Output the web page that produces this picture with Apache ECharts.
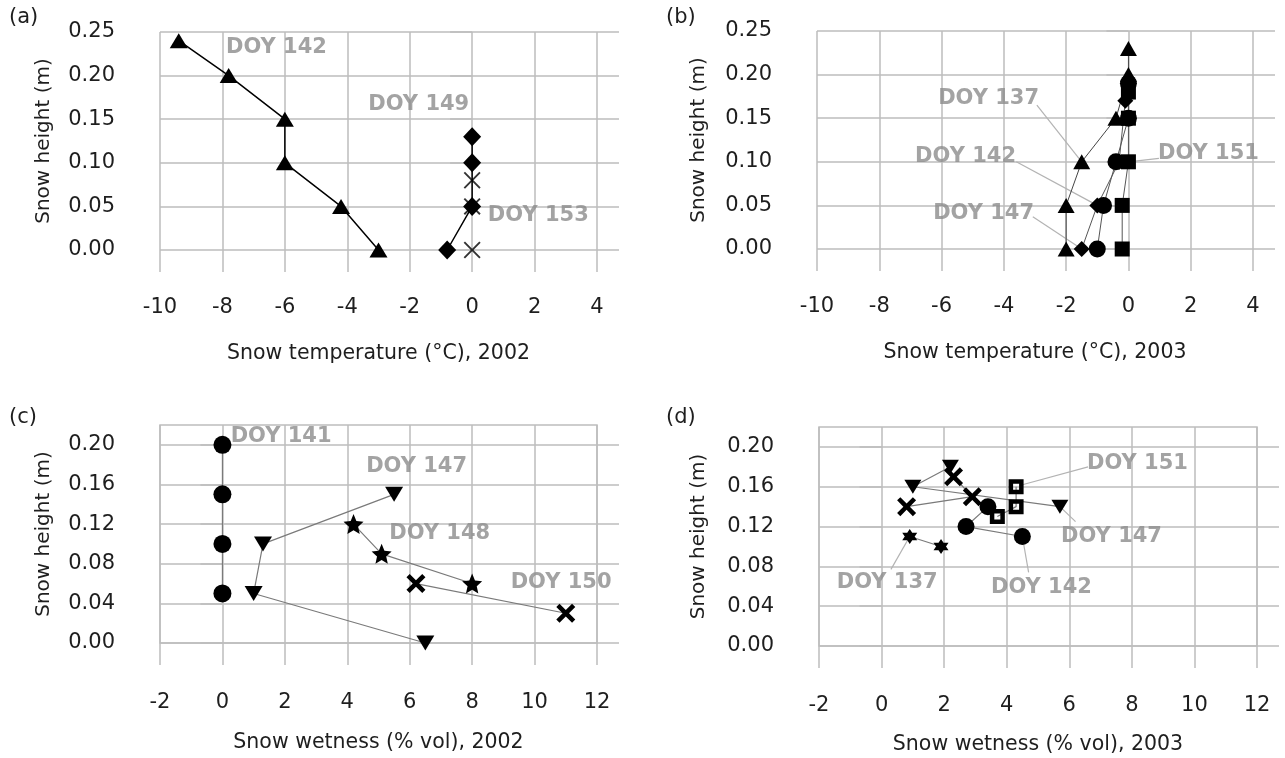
<!DOCTYPE html>
<html><head><meta charset="utf-8">
<script src="https://cdn.jsdelivr.net/npm/echarts@6/dist/echarts.min.js"></script>
<style>html,body{margin:0;padding:0;background:#fff}#c{width:1285px;height:758px}</style>
</head><body><div id="c"></div>
<script>
// ---- tick labels ----
const tempTicks = [-10, -8, -6, -4, -2, 0, 2, 4];
const wetTicks = [-2, 0, 2, 4, 6, 8, 10, 12];
const heightTicksAB = [0, 0.05, 0.10, 0.15, 0.20, 0.25];
const heightTicksCD = [0, 0.04, 0.08, 0.12, 0.16, 0.20];
const heightMaxCD = 0.22;

// ---- panel (a): snow temperature 2002 [temp, height] ----
const a142 = [[-9.4, 0.24], [-7.8, 0.20], [-6.0, 0.15], [-6.0, 0.10], [-4.2, 0.05], [-3.0, 0.00]];
const a149 = [[0, 0.13], [0, 0.10], [0, 0.05], [-0.8, 0.00]];
const a153 = [[0, 0.08], [0, 0.05], [0, 0.00]];
const aLabels = [['DOY 142', -6.27, 0.232], ['DOY 149', -1.71, 0.167], ['DOY 153', 2.12, 0.040]];

// ---- panel (b): snow temperature 2003 ----
const b137 = [[0, 0.23], [0, 0.20], [-0.4, 0.15], [-1.5, 0.10], [-2.0, 0.05], [-2.0, 0.00]];
const b142 = [[-1.0, 0.00], [-0.8, 0.05], [-0.4, 0.10], [0, 0.15], [0, 0.19]];
const b147 = [[-1.5, 0.00], [-1.0, 0.05], [-0.3, 0.10], [-0.1, 0.17]];
const b151 = [[-0.2, 0.00], [-0.2, 0.05], [0, 0.10], [0, 0.15], [0, 0.18]];
const bLabels = [['DOY 137', -4.49, 0.173], ['DOY 142', -5.23, 0.1055], ['DOY 147', -4.65, 0.041], ['DOY 151', 2.57, 0.110]];
const bLeaders = [[[-2.94, 0.165], [-1.5, 0.10]], [[-3.6, 0.10], [-1.0, 0.05]], [[-3.07, 0.037], [-1.5, 0.0]], [[0.98, 0.104], [0, 0.10]]];

// ---- panel (c): snow wetness 2002 [wetness, height] ----
const c141 = [[0, 0.20], [0, 0.15], [0, 0.10], [0, 0.05]];
const c147 = [[5.5, 0.15], [1.3, 0.10], [1.0, 0.05], [6.5, 0.00]];
const c148 = [[4.2, 0.12], [5.1, 0.09], [8.0, 0.06]];
const c150 = [[6.2, 0.06], [11.0, 0.03]];
const cLabels = [['DOY 141', 1.88, 0.208], ['DOY 147', 6.22, 0.178], ['DOY 148', 6.96, 0.110], ['DOY 150', 10.85, 0.0606]];

// ---- panel (d): snow wetness 2003 ----
const d137 = [[0.9, 0.11], [1.9, 0.10]];
const d142 = [[3.4, 0.14], [2.7, 0.12], [4.5, 0.11]];
const d147 = [[2.2, 0.18], [1.0, 0.16], [5.7, 0.14]];
const d151 = [[4.3, 0.16], [4.3, 0.14], [3.7, 0.13]];
const dCross = [[2.3, 0.17], [2.9, 0.15], [0.8, 0.14]];
const dLabels = [['DOY 151', 8.18, 0.183], ['DOY 147', 7.35, 0.110], ['DOY 137', 0.18, 0.064], ['DOY 142', 5.11, 0.059]];
const dLeaders = [[[4.5, 0.162], [6.6, 0.18]], [[5.7, 0.14], [6.2, 0.125]], [[0.9, 0.11], [0.3, 0.077]], [[4.5, 0.11], [4.7, 0.074]]];

// ---- styling ----
const FONT = 'DejaVu Sans';
const GRIDC = '#bdbdbd';
const TXT = '#1e1e1e';
const DOYC = '#8c8c8c';
const SYM_X_THIN = 'path://M0,0.8 L0.8,0 L5,4.2 L9.2,0 L10,0.8 L5.8,5 L10,9.2 L9.2,10 L5,5.8 L0.8,10 L0,9.2 L4.2,5 Z';
const SYM_X_BOLD = 'path://M0,1.7 L1.7,0 L5,3.3 L8.3,0 L10,1.7 L6.7,5 L10,8.3 L8.3,10 L5,6.7 L1.7,10 L0,8.3 L3.3,5 Z';
const SYM_STAR5 = 'path://M50,0 L63.5,31.4 L97.6,34.5 L71.9,57.1 L79.4,90.5 L50,73 L20.6,90.5 L28.1,57.1 L2.4,34.5 L36.5,31.4 Z';
const SYM_STAR6 = 'path://M50,0 L93.3,75 L6.7,75 Z M50,100 L6.7,25 L93.3,25 Z';
const SYM_OPENSQ = 'path://M0,0 L10,0 L10,10 L0,10 Z M3,3 L3,7 L7,7 L7,3 Z';

const grids = [
  {left: 160, top: 32, width: 437, height: 218},
  {left: 817, top: 31, width: 436, height: 218},
  {left: 160, top: 425, width: 437, height: 218, show: true, borderColor: GRIDC, borderWidth: 1.5, backgroundColor: 'rgba(0,0,0,0)'},
  {left: 819, top: 427, width: 438, height: 219, show: true, borderColor: GRIDC, borderWidth: 1.5, backgroundColor: 'rgba(0,0,0,0)'}
];
const xNames = ['Snow temperature (°C), 2002', 'Snow temperature (°C), 2003', 'Snow wetness (% vol), 2002', 'Snow wetness (% vol), 2003'];
const yNameGap = [106, 108, 106, 110];
const xLabelMargin = [47, 47, 49, 49];
const xNameGap = [93, 93, 89, 88];

const xAxes = grids.map((g, i) => {
  const ticks = i < 2 ? tempTicks : wetTicks;
  return {
    type: 'value', gridIndex: i,
    min: ticks[0], max: ticks[ticks.length - 1], interval: ticks[1] - ticks[0],
    axisLine: {show: false},
    axisTick: {show: true, length: 22, inside: false, lineStyle: {color: GRIDC, width: 1.5}},
    splitLine: {show: true, lineStyle: {color: GRIDC, width: 1.5}},
    axisLabel: {margin: xLabelMargin[i], fontFamily: FONT, fontSize: 21, color: TXT, formatter: v => String(v)},
    name: xNames[i], nameLocation: 'middle', nameGap: xNameGap[i],
    nameTextStyle: {fontFamily: FONT, fontSize: 20.5, color: TXT}
  };
});

const yAxes = [];
grids.forEach((g, i) => {
  const ticks = i < 2 ? heightTicksAB : heightTicksCD;
  const max = i < 2 ? ticks[ticks.length - 1] : heightMaxCD;
  const interval = ticks[1] - ticks[0];
  const fmt = v => (v > ticks[ticks.length - 1] + 1e-6 ? '' : v.toFixed(2));
  yAxes.push({
    type: 'value', gridIndex: i, position: 'left', min: 0, max: max, interval: interval,
    axisLine: {show: false},
    axisTick: {show: true, length: 22, inside: false, customValues: ticks, lineStyle: {color: GRIDC, width: 1.5}},
    splitLine: {show: true, lineStyle: {color: GRIDC, width: 1.5}},
    axisLabel: {margin: 45, fontFamily: FONT, fontSize: 21, color: TXT, customValues: ticks, formatter: fmt},
    name: 'Snow height (m)', nameLocation: 'middle', nameRotate: 90, nameGap: yNameGap[i],
    nameTextStyle: {fontFamily: FONT, fontSize: 20, color: TXT}
  });
  yAxes.push({
    type: 'value', gridIndex: i, position: 'right', min: 0, max: max, interval: interval,
    axisLine: {show: false},
    axisTick: {show: true, length: 22, inside: false, customValues: ticks, lineStyle: {color: GRIDC, width: 1.5}},
    splitLine: {show: false},
    axisLabel: {show: false}
  });
});

function lineS(gi, data, symbol, size, opt) {
  opt = opt || {};
  return {
    type: 'line', xAxisIndex: gi, yAxisIndex: gi * 2, data: data,
    symbol: symbol, symbolSize: size, symbolRotate: opt.rotate || 0, showSymbol: true,
    lineStyle: {color: opt.lineColor || '#000', width: opt.lineWidth || 1.5},
    itemStyle: {color: '#000'}, animation: false, z: 3
  };
}
function scatterS(gi, data, symbol, size) {
  return {type: 'scatter', xAxisIndex: gi, yAxisIndex: gi * 2, data: data, symbol: symbol, symbolSize: size,
    itemStyle: {color: '#000'}, animation: false, z: 4};
}
function labelS(gi, labels) {
  return {
    type: 'scatter', xAxisIndex: gi, yAxisIndex: gi * 2, silent: true, animation: false, z: 6,
    symbolSize: 1, itemStyle: {color: 'rgba(0,0,0,0)'},
    data: labels.map(l => ({name: l[0], value: [l[1], l[2]]})),
    label: {show: true, position: 'inside', formatter: '{b}', fontFamily: FONT, fontSize: 21, fontWeight: 'bold', color: DOYC}
  };
}
function leaderS(gi, pts) {
  return {type: 'line', xAxisIndex: gi, yAxisIndex: gi * 2, data: pts, symbol: 'none', silent: true, animation: false, z: 2,
    lineStyle: {color: '#b3b3b3', width: 1.2}};
}

const GL = '#7a7a7a';
const series = [
  // (a)
  lineS(0, a142, 'triangle', [18, 15]),
  lineS(0, a149, 'diamond', [18, 19]),
  scatterS(0, a153, SYM_X_THIN, 17),
  labelS(0, aLabels),
  // (b)
  ...bLeaders.map(p => leaderS(1, p)),
  lineS(1, b137, 'triangle', [17, 15], {lineColor: '#444', lineWidth: 1}),
  lineS(1, b142, 'circle', 17, {lineColor: '#555', lineWidth: 1}),
  lineS(1, b147, 'diamond', [16, 16], {lineColor: '#555', lineWidth: 1}),
  lineS(1, b151, 'rect', 15, {lineColor: '#555', lineWidth: 1}),
  labelS(1, bLabels),
  // (c)
  lineS(2, c141, 'circle', 18, {lineColor: GL, lineWidth: 1.2}),
  lineS(2, c147, 'triangle', [18, 15], {lineColor: GL, lineWidth: 1.2, rotate: 180}),
  lineS(2, c148, SYM_STAR5, 20, {lineColor: GL, lineWidth: 1.2}),
  lineS(2, c150, SYM_X_BOLD, 19, {lineColor: GL, lineWidth: 1.2}),
  labelS(2, cLabels),
  // (d)
  ...dLeaders.map(p => leaderS(3, p)),
  lineS(3, d137, SYM_STAR6, 15, {lineColor: GL, lineWidth: 1.2}),
  lineS(3, d142, 'circle', 17, {lineColor: GL, lineWidth: 1.2}),
  lineS(3, d147, 'triangle', [17, 14], {lineColor: GL, lineWidth: 1.2, rotate: 180}),
  lineS(3, d151, SYM_OPENSQ, 15, {lineColor: GL, lineWidth: 1.2}),
  lineS(3, dCross, SYM_X_BOLD, 19, {lineColor: GL, lineWidth: 1.2}),
  labelS(3, dLabels)
];

const panelTags = [['(a)', 9, 7], ['(b)', 666, 7], ['(c)', 9, 407], ['(d)', 666, 407]];

const chart = echarts.init(document.getElementById('c'), null, {renderer: 'canvas'});
chart.setOption({
  backgroundColor: '#fff',
  animation: false,
  grid: grids,
  xAxis: xAxes,
  yAxis: yAxes,
  series: series,
  graphic: panelTags.map(t => ({type: 'text', left: t[1], top: t[2],
    style: {text: t[0], font: '21px "DejaVu Sans"', fill: TXT}}))
});
</script>
</body></html>
